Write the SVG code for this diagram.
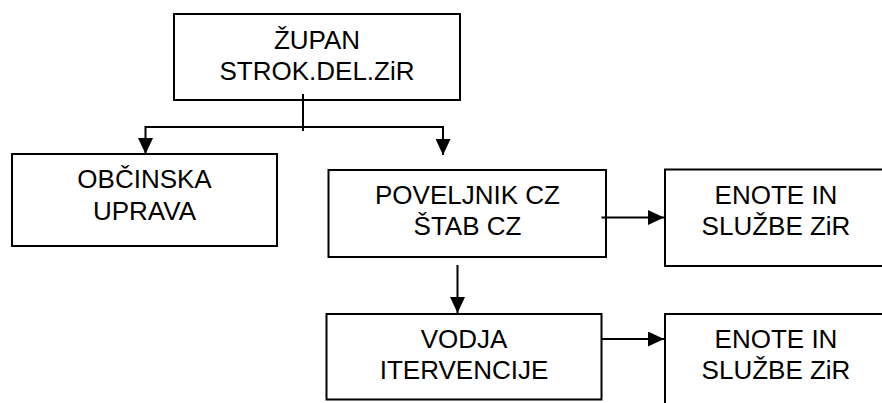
<svg xmlns="http://www.w3.org/2000/svg" width="882" height="403" viewBox="0 0 882 403">
<style>
.box{fill:#fff;stroke:#000;stroke-width:2}
.t{font-family:"Liberation Sans",Arial,sans-serif;font-size:26px;fill:#000;text-anchor:middle}
.c{fill:none;stroke:#000;stroke-width:2}
</style>
<defs>
<marker id="ah" markerUnits="userSpaceOnUse" markerWidth="16" markerHeight="15" refX="16" refY="7.5" orient="auto">
<path d="M0,0 L16,7.5 L0,15 z" fill="#000"/>
</marker>
</defs>
<rect width="882" height="403" fill="#fff"/>
<g id="zupan">
<rect class="box" x="174" y="14" width="286" height="86"/>
<text class="t" x="317" y="49">ŽUPAN</text>
<text class="t" x="317" y="80">STROK.DEL.ZiR</text>
</g>
<g id="obcinska">
<rect class="box" x="12" y="154" width="265" height="92"/>
<text class="t" x="144.5" y="188">OBČINSKA</text>
<text class="t" x="144.5" y="220">UPRAVA</text>
</g>
<g id="poveljnik">
<rect class="box" x="328.5" y="170" width="277.5" height="87"/>
<text class="t" x="467.5" y="204">POVELJNIK CZ</text>
<text class="t" x="467.5" y="235">ŠTAB CZ</text>
</g>
<g id="enote1">
<rect class="box" x="665" y="169.5" width="230" height="96.5"/>
<text class="t" x="776" y="204">ENOTE IN</text>
<text class="t" x="776" y="235">SLUŽBE ZiR</text>
</g>
<g id="vodja">
<rect class="box" x="326.5" y="314" width="275" height="85.5"/>
<text class="t" x="464" y="348">VODJA</text>
<text class="t" x="464" y="379">ITERVENCIJE</text>
</g>
<g id="enote2">
<rect class="box" x="665" y="314" width="230" height="100"/>
<text class="t" x="776" y="348">ENOTE IN</text>
<text class="t" x="776" y="379">SLUŽBE ZiR</text>
</g>
<g id="connectors">
<line class="c" x1="303" y1="94" x2="303" y2="131"/>
<polyline class="c" points="303,127 443,127 443,155" marker-end="url(#ah)"/>
<polyline class="c" points="303,127 145.5,127 145.5,154" marker-end="url(#ah)"/>
<line class="c" x1="601.5" y1="217.5" x2="664" y2="217.5" marker-end="url(#ah)"/>
<line class="c" x1="457.5" y1="265" x2="457.5" y2="313" marker-end="url(#ah)"/>
<line class="c" x1="601.5" y1="339" x2="664" y2="339" marker-end="url(#ah)"/>
</g>
</svg>
